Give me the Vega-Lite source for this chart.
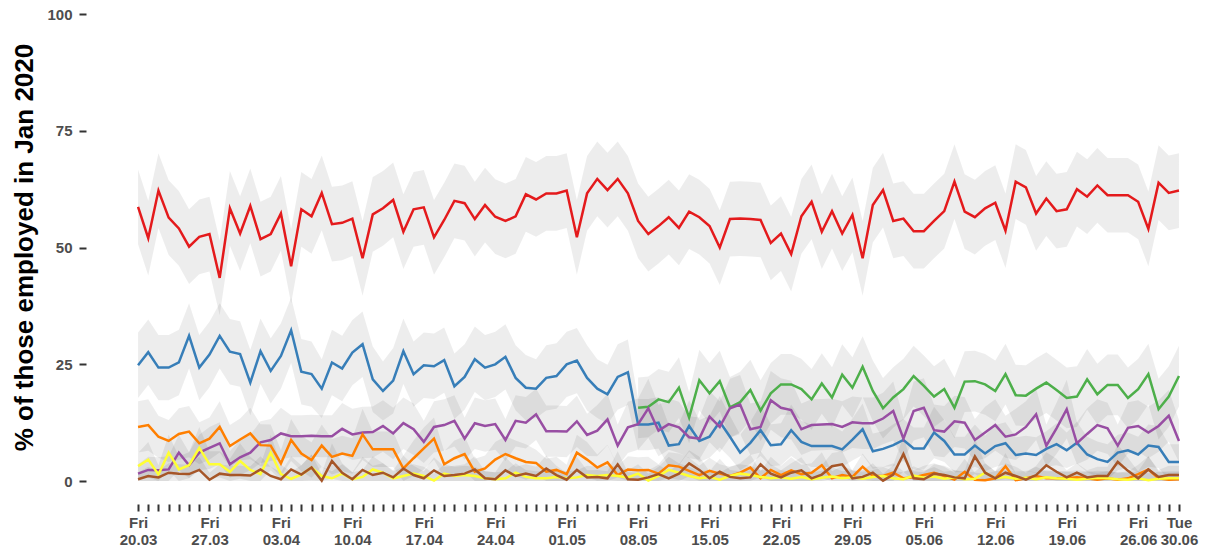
{
"$schema":"https://vega.github.io/schema/vega-lite/v6.json",
"width":1114,"height":504,
"autosize":{"type":"none"},
"padding":{"left":86,"top":0,"right":5,"bottom":48},
"background":"white",
"config":{"view":{"stroke":null},"font":"Liberation Sans",
"axis":{"domain":false,"grid":false,"tickWidth":2,"tickColor":"#333333","labelFont":"Liberation Sans","labelFontWeight":"bold","labelFontSize":15,"labelColor":"#4d4d4d","titleFont":"Liberation Sans"}},
"data":{"format":{"parse":{"d":"utc:'%Y-%m-%d'"}},"values":[
{"s":"A","d":"2020-03-20","v":58.7,"l":50.7,"h":66.7},
{"s":"A","d":"2020-03-21","v":52.0,"l":44.0,"h":60.0},
{"s":"A","d":"2020-03-22","v":62.2,"l":54.2,"h":70.2},
{"s":"A","d":"2020-03-23","v":56.4,"l":48.4,"h":64.4},
{"s":"A","d":"2020-03-24","v":54.1,"l":46.1,"h":62.1},
{"s":"A","d":"2020-03-25","v":50.2,"l":42.2,"h":58.2},
{"s":"A","d":"2020-03-26","v":52.3,"l":44.3,"h":60.3},
{"s":"A","d":"2020-03-27","v":52.9,"l":44.9,"h":60.9},
{"s":"A","d":"2020-03-28","v":43.5,"l":35.5,"h":51.5},
{"s":"A","d":"2020-03-29","v":58.4,"l":50.4,"h":66.4},
{"s":"A","d":"2020-03-30","v":53.0,"l":45.0,"h":61.0},
{"s":"A","d":"2020-03-31","v":58.9,"l":50.9,"h":66.9},
{"s":"A","d":"2020-04-01","v":51.8,"l":43.8,"h":59.8},
{"s":"A","d":"2020-04-02","v":52.9,"l":44.9,"h":60.9},
{"s":"A","d":"2020-04-03","v":57.3,"l":49.3,"h":65.3},
{"s":"A","d":"2020-04-04","v":46.0,"l":38.0,"h":54.0},
{"s":"A","d":"2020-04-05","v":58.2,"l":50.2,"h":66.2},
{"s":"A","d":"2020-04-06","v":56.7,"l":48.7,"h":64.7},
{"s":"A","d":"2020-04-07","v":61.7,"l":53.7,"h":69.7},
{"s":"A","d":"2020-04-08","v":55.0,"l":47.0,"h":63.0},
{"s":"A","d":"2020-04-09","v":55.3,"l":47.3,"h":63.3},
{"s":"A","d":"2020-04-10","v":56.2,"l":48.2,"h":64.2},
{"s":"A","d":"2020-04-11","v":47.7,"l":39.7,"h":55.7},
{"s":"A","d":"2020-04-12","v":57.1,"l":49.1,"h":65.1},
{"s":"A","d":"2020-04-13","v":58.4,"l":50.4,"h":66.4},
{"s":"A","d":"2020-04-14","v":60.2,"l":52.2,"h":68.2},
{"s":"A","d":"2020-04-15","v":53.4,"l":45.4,"h":61.4},
{"s":"A","d":"2020-04-16","v":58.2,"l":50.2,"h":66.2},
{"s":"A","d":"2020-04-17","v":58.6,"l":50.6,"h":66.6},
{"s":"A","d":"2020-04-18","v":52.2,"l":44.2,"h":60.2},
{"s":"A","d":"2020-04-19","v":55.9,"l":47.9,"h":63.9},
{"s":"A","d":"2020-04-20","v":60.0,"l":52.0,"h":68.0},
{"s":"A","d":"2020-04-21","v":59.5,"l":51.5,"h":67.5},
{"s":"A","d":"2020-04-22","v":56.1,"l":48.1,"h":64.1},
{"s":"A","d":"2020-04-23","v":59.1,"l":51.1,"h":67.1},
{"s":"A","d":"2020-04-24","v":56.6,"l":48.6,"h":64.6},
{"s":"A","d":"2020-04-25","v":55.7,"l":47.7,"h":63.7},
{"s":"A","d":"2020-04-26","v":56.7,"l":48.7,"h":64.7},
{"s":"A","d":"2020-04-27","v":61.4,"l":53.4,"h":69.4},
{"s":"A","d":"2020-04-28","v":60.3,"l":52.3,"h":68.3},
{"s":"A","d":"2020-04-29","v":61.6,"l":53.6,"h":69.6},
{"s":"A","d":"2020-04-30","v":61.6,"l":53.6,"h":69.6},
{"s":"A","d":"2020-05-01","v":62.2,"l":54.2,"h":70.2},
{"s":"A","d":"2020-05-02","v":52.2,"l":44.2,"h":60.2},
{"s":"A","d":"2020-05-03","v":61.6,"l":53.6,"h":69.6},
{"s":"A","d":"2020-05-04","v":64.7,"l":56.7,"h":72.7},
{"s":"A","d":"2020-05-05","v":62.3,"l":54.3,"h":70.3},
{"s":"A","d":"2020-05-06","v":64.7,"l":56.7,"h":72.7},
{"s":"A","d":"2020-05-07","v":61.6,"l":53.6,"h":69.6},
{"s":"A","d":"2020-05-08","v":55.7,"l":47.7,"h":63.7},
{"s":"A","d":"2020-05-09","v":52.9,"l":44.9,"h":60.9},
{"s":"A","d":"2020-05-10","v":54.6,"l":46.6,"h":62.6},
{"s":"A","d":"2020-05-11","v":56.5,"l":48.5,"h":64.5},
{"s":"A","d":"2020-05-12","v":54.2,"l":46.2,"h":62.2},
{"s":"A","d":"2020-05-13","v":57.7,"l":49.7,"h":65.7},
{"s":"A","d":"2020-05-14","v":56.5,"l":48.5,"h":64.5},
{"s":"A","d":"2020-05-15","v":54.6,"l":46.6,"h":62.6},
{"s":"A","d":"2020-05-16","v":50.0,"l":42.0,"h":58.0},
{"s":"A","d":"2020-05-17","v":56.1,"l":48.1,"h":64.1},
{"s":"A","d":"2020-05-18","v":56.2,"l":48.2,"h":64.2},
{"s":"A","d":"2020-05-19","v":56.1,"l":48.1,"h":64.1},
{"s":"A","d":"2020-05-20","v":55.9,"l":47.9,"h":63.9},
{"s":"A","d":"2020-05-21","v":51.0,"l":43.0,"h":59.0},
{"s":"A","d":"2020-05-22","v":53.0,"l":45.0,"h":61.0},
{"s":"A","d":"2020-05-23","v":48.6,"l":40.6,"h":56.6},
{"s":"A","d":"2020-05-24","v":56.7,"l":48.7,"h":64.7},
{"s":"A","d":"2020-05-25","v":59.8,"l":51.8,"h":67.8},
{"s":"A","d":"2020-05-26","v":53.4,"l":45.4,"h":61.4},
{"s":"A","d":"2020-05-27","v":57.8,"l":49.8,"h":65.8},
{"s":"A","d":"2020-05-28","v":53.0,"l":45.0,"h":61.0},
{"s":"A","d":"2020-05-29","v":57.0,"l":49.0,"h":65.0},
{"s":"A","d":"2020-05-30","v":47.7,"l":39.7,"h":55.7},
{"s":"A","d":"2020-05-31","v":59.1,"l":51.1,"h":67.1},
{"s":"A","d":"2020-06-01","v":62.3,"l":54.3,"h":70.3},
{"s":"A","d":"2020-06-02","v":55.7,"l":47.7,"h":63.7},
{"s":"A","d":"2020-06-03","v":56.2,"l":48.2,"h":64.2},
{"s":"A","d":"2020-06-04","v":53.5,"l":45.5,"h":61.5},
{"s":"A","d":"2020-06-05","v":53.5,"l":45.5,"h":61.5},
{"s":"A","d":"2020-06-06","v":55.7,"l":47.7,"h":63.7},
{"s":"A","d":"2020-06-07","v":57.8,"l":49.8,"h":65.8},
{"s":"A","d":"2020-06-08","v":64.1,"l":56.1,"h":72.1},
{"s":"A","d":"2020-06-09","v":57.7,"l":49.7,"h":65.7},
{"s":"A","d":"2020-06-10","v":56.5,"l":48.5,"h":64.5},
{"s":"A","d":"2020-06-11","v":58.4,"l":50.4,"h":66.4},
{"s":"A","d":"2020-06-12","v":59.6,"l":51.6,"h":67.6},
{"s":"A","d":"2020-06-13","v":53.6,"l":45.6,"h":61.6},
{"s":"A","d":"2020-06-14","v":64.1,"l":56.1,"h":72.1},
{"s":"A","d":"2020-06-15","v":62.9,"l":54.9,"h":70.9},
{"s":"A","d":"2020-06-16","v":57.3,"l":49.3,"h":65.3},
{"s":"A","d":"2020-06-17","v":60.5,"l":52.5,"h":68.5},
{"s":"A","d":"2020-06-18","v":57.8,"l":49.8,"h":65.8},
{"s":"A","d":"2020-06-19","v":58.2,"l":50.2,"h":66.2},
{"s":"A","d":"2020-06-20","v":62.5,"l":54.5,"h":70.5},
{"s":"A","d":"2020-06-21","v":60.9,"l":52.9,"h":68.9},
{"s":"A","d":"2020-06-22","v":63.3,"l":55.3,"h":71.3},
{"s":"A","d":"2020-06-23","v":61.2,"l":53.2,"h":69.2},
{"s":"A","d":"2020-06-24","v":61.2,"l":53.2,"h":69.2},
{"s":"A","d":"2020-06-25","v":61.2,"l":53.2,"h":69.2},
{"s":"A","d":"2020-06-26","v":59.8,"l":51.8,"h":67.8},
{"s":"A","d":"2020-06-27","v":54.0,"l":46.0,"h":62.0},
{"s":"A","d":"2020-06-28","v":63.9,"l":55.9,"h":71.9},
{"s":"A","d":"2020-06-29","v":61.7,"l":53.7,"h":69.7},
{"s":"A","d":"2020-06-30","v":62.2,"l":54.2,"h":70.2},
{"s":"B","d":"2020-03-20","v":24.8,"l":17.8,"h":31.8},
{"s":"B","d":"2020-03-21","v":27.6,"l":20.6,"h":34.6},
{"s":"B","d":"2020-03-22","v":24.3,"l":17.3,"h":31.3},
{"s":"B","d":"2020-03-23","v":24.3,"l":17.3,"h":31.3},
{"s":"B","d":"2020-03-24","v":25.4,"l":18.4,"h":32.4},
{"s":"B","d":"2020-03-25","v":31.1,"l":24.1,"h":38.1},
{"s":"B","d":"2020-03-26","v":24.3,"l":17.3,"h":31.3},
{"s":"B","d":"2020-03-27","v":27.1,"l":20.1,"h":34.1},
{"s":"B","d":"2020-03-28","v":31.1,"l":24.1,"h":38.1},
{"s":"B","d":"2020-03-29","v":27.7,"l":20.7,"h":34.7},
{"s":"B","d":"2020-03-30","v":27.2,"l":20.2,"h":34.2},
{"s":"B","d":"2020-03-31","v":21.1,"l":14.1,"h":28.1},
{"s":"B","d":"2020-04-01","v":27.8,"l":20.8,"h":34.8},
{"s":"B","d":"2020-04-02","v":23.6,"l":16.6,"h":30.6},
{"s":"B","d":"2020-04-03","v":26.8,"l":19.8,"h":33.8},
{"s":"B","d":"2020-04-04","v":32.3,"l":25.3,"h":39.3},
{"s":"B","d":"2020-04-05","v":23.4,"l":16.4,"h":30.4},
{"s":"B","d":"2020-04-06","v":22.9,"l":15.9,"h":29.9},
{"s":"B","d":"2020-04-07","v":19.8,"l":13.5,"h":26.1},
{"s":"B","d":"2020-04-08","v":25.4,"l":18.4,"h":32.4},
{"s":"B","d":"2020-04-09","v":24.1,"l":17.1,"h":31.1},
{"s":"B","d":"2020-04-10","v":27.5,"l":20.5,"h":34.5},
{"s":"B","d":"2020-04-11","v":29.3,"l":22.3,"h":36.3},
{"s":"B","d":"2020-04-12","v":21.8,"l":14.8,"h":28.8},
{"s":"B","d":"2020-04-13","v":19.3,"l":13.0,"h":25.6},
{"s":"B","d":"2020-04-14","v":21.5,"l":14.5,"h":28.5},
{"s":"B","d":"2020-04-15","v":27.8,"l":20.8,"h":34.8},
{"s":"B","d":"2020-04-16","v":22.9,"l":15.9,"h":29.9},
{"s":"B","d":"2020-04-17","v":24.8,"l":17.8,"h":31.8},
{"s":"B","d":"2020-04-18","v":24.6,"l":17.6,"h":31.6},
{"s":"B","d":"2020-04-19","v":25.9,"l":18.9,"h":32.9},
{"s":"B","d":"2020-04-20","v":20.3,"l":13.3,"h":27.3},
{"s":"B","d":"2020-04-21","v":22.3,"l":15.3,"h":29.3},
{"s":"B","d":"2020-04-22","v":26.1,"l":19.1,"h":33.1},
{"s":"B","d":"2020-04-23","v":24.3,"l":17.3,"h":31.3},
{"s":"B","d":"2020-04-24","v":25.0,"l":18.0,"h":32.0},
{"s":"B","d":"2020-04-25","v":26.6,"l":19.6,"h":33.6},
{"s":"B","d":"2020-04-26","v":22.1,"l":15.1,"h":29.1},
{"s":"B","d":"2020-04-27","v":20.0,"l":13.0,"h":27.0},
{"s":"B","d":"2020-04-28","v":19.8,"l":13.5,"h":26.1},
{"s":"B","d":"2020-04-29","v":22.1,"l":15.1,"h":29.1},
{"s":"B","d":"2020-04-30","v":22.5,"l":15.5,"h":29.5},
{"s":"B","d":"2020-05-01","v":25.0,"l":18.0,"h":32.0},
{"s":"B","d":"2020-05-02","v":25.8,"l":18.8,"h":32.8},
{"s":"B","d":"2020-05-03","v":22.1,"l":15.1,"h":29.1},
{"s":"B","d":"2020-05-04","v":19.8,"l":13.5,"h":26.1},
{"s":"B","d":"2020-05-05","v":18.6,"l":12.3,"h":24.9},
{"s":"B","d":"2020-05-06","v":22.3,"l":15.3,"h":29.3},
{"s":"B","d":"2020-05-07","v":23.3,"l":16.3,"h":30.3},
{"s":"B","d":"2020-05-08","v":12.1,"l":6.6,"h":17.6},
{"s":"B","d":"2020-05-09","v":12.1,"l":6.6,"h":17.6},
{"s":"B","d":"2020-05-10","v":12.5,"l":7.0,"h":18.0},
{"s":"B","d":"2020-05-11","v":7.6,"l":3.1,"h":12.1},
{"s":"B","d":"2020-05-12","v":7.9,"l":3.4,"h":12.4},
{"s":"B","d":"2020-05-13","v":11.8,"l":6.3,"h":17.3},
{"s":"B","d":"2020-05-14","v":8.6,"l":4.1,"h":13.1},
{"s":"B","d":"2020-05-15","v":9.5,"l":5.0,"h":14.0},
{"s":"B","d":"2020-05-16","v":12.7,"l":7.2,"h":18.2},
{"s":"B","d":"2020-05-17","v":9.5,"l":5.0,"h":14.0},
{"s":"B","d":"2020-05-18","v":6.1,"l":2.3,"h":9.9},
{"s":"B","d":"2020-05-19","v":8.2,"l":3.7,"h":12.7},
{"s":"B","d":"2020-05-20","v":10.9,"l":5.4,"h":16.4},
{"s":"B","d":"2020-05-21","v":7.7,"l":3.2,"h":12.2},
{"s":"B","d":"2020-05-22","v":7.9,"l":3.4,"h":12.4},
{"s":"B","d":"2020-05-23","v":10.9,"l":5.4,"h":16.4},
{"s":"B","d":"2020-05-24","v":8.4,"l":3.9,"h":12.9},
{"s":"B","d":"2020-05-25","v":7.5,"l":3.0,"h":12.0},
{"s":"B","d":"2020-05-26","v":7.5,"l":3.0,"h":12.0},
{"s":"B","d":"2020-05-27","v":7.5,"l":3.0,"h":12.0},
{"s":"B","d":"2020-05-28","v":6.8,"l":3.0,"h":10.6},
{"s":"B","d":"2020-05-29","v":8.9,"l":4.4,"h":13.4},
{"s":"B","d":"2020-05-30","v":11.1,"l":5.6,"h":16.6},
{"s":"B","d":"2020-05-31","v":6.4,"l":2.6,"h":10.2},
{"s":"B","d":"2020-06-01","v":6.9,"l":3.1,"h":10.7},
{"s":"B","d":"2020-06-02","v":7.7,"l":3.2,"h":12.2},
{"s":"B","d":"2020-06-03","v":8.8,"l":4.3,"h":13.3},
{"s":"B","d":"2020-06-04","v":7.0,"l":2.5,"h":11.5},
{"s":"B","d":"2020-06-05","v":7.0,"l":2.5,"h":11.5},
{"s":"B","d":"2020-06-06","v":10.4,"l":4.9,"h":15.9},
{"s":"B","d":"2020-06-07","v":8.6,"l":4.1,"h":13.1},
{"s":"B","d":"2020-06-08","v":5.7,"l":1.9,"h":9.5},
{"s":"B","d":"2020-06-09","v":5.7,"l":1.9,"h":9.5},
{"s":"B","d":"2020-06-10","v":7.6,"l":3.1,"h":12.1},
{"s":"B","d":"2020-06-11","v":5.9,"l":2.1,"h":9.7},
{"s":"B","d":"2020-06-12","v":7.5,"l":3.0,"h":12.0},
{"s":"B","d":"2020-06-13","v":8.1,"l":3.6,"h":12.6},
{"s":"B","d":"2020-06-14","v":5.6,"l":1.8,"h":9.4},
{"s":"B","d":"2020-06-15","v":5.9,"l":2.1,"h":9.7},
{"s":"B","d":"2020-06-16","v":5.6,"l":1.8,"h":9.4},
{"s":"B","d":"2020-06-17","v":6.9,"l":3.1,"h":10.7},
{"s":"B","d":"2020-06-18","v":7.9,"l":3.4,"h":12.4},
{"s":"B","d":"2020-06-19","v":6.6,"l":2.8,"h":10.4},
{"s":"B","d":"2020-06-20","v":8.2,"l":3.7,"h":12.7},
{"s":"B","d":"2020-06-21","v":5.7,"l":1.9,"h":9.5},
{"s":"B","d":"2020-06-22","v":4.7,"l":0.9,"h":8.5},
{"s":"B","d":"2020-06-23","v":4.1,"l":0.3,"h":7.9},
{"s":"B","d":"2020-06-24","v":6.1,"l":2.3,"h":9.9},
{"s":"B","d":"2020-06-25","v":6.6,"l":2.8,"h":10.4},
{"s":"B","d":"2020-06-26","v":5.7,"l":1.9,"h":9.5},
{"s":"B","d":"2020-06-27","v":7.6,"l":3.1,"h":12.1},
{"s":"B","d":"2020-06-28","v":7.3,"l":2.8,"h":11.8},
{"s":"B","d":"2020-06-29","v":4.1,"l":0.3,"h":7.9},
{"s":"B","d":"2020-06-30","v":4.1,"l":0.3,"h":7.9},
{"s":"C","d":"2020-05-08","v":15.7,"l":9.2,"h":22.2},
{"s":"C","d":"2020-05-09","v":15.9,"l":9.4,"h":22.4},
{"s":"C","d":"2020-05-10","v":17.5,"l":11.0,"h":24.0},
{"s":"C","d":"2020-05-11","v":16.9,"l":10.4,"h":23.4},
{"s":"C","d":"2020-05-12","v":20.0,"l":13.5,"h":26.5},
{"s":"C","d":"2020-05-13","v":13.6,"l":8.1,"h":19.1},
{"s":"C","d":"2020-05-14","v":21.6,"l":15.1,"h":28.1},
{"s":"C","d":"2020-05-15","v":18.8,"l":12.3,"h":25.3},
{"s":"C","d":"2020-05-16","v":21.4,"l":14.9,"h":27.9},
{"s":"C","d":"2020-05-17","v":15.8,"l":9.3,"h":22.3},
{"s":"C","d":"2020-05-18","v":16.9,"l":10.4,"h":23.4},
{"s":"C","d":"2020-05-19","v":19.5,"l":13.0,"h":26.0},
{"s":"C","d":"2020-05-20","v":15.1,"l":8.6,"h":21.6},
{"s":"C","d":"2020-05-21","v":18.8,"l":12.3,"h":25.3},
{"s":"C","d":"2020-05-22","v":20.7,"l":14.2,"h":27.2},
{"s":"C","d":"2020-05-23","v":20.7,"l":14.2,"h":27.2},
{"s":"C","d":"2020-05-24","v":19.7,"l":13.2,"h":26.2},
{"s":"C","d":"2020-05-25","v":17.5,"l":11.0,"h":24.0},
{"s":"C","d":"2020-05-26","v":20.9,"l":14.4,"h":27.4},
{"s":"C","d":"2020-05-27","v":17.9,"l":11.4,"h":24.4},
{"s":"C","d":"2020-05-28","v":22.8,"l":16.3,"h":29.3},
{"s":"C","d":"2020-05-29","v":20.0,"l":13.5,"h":26.5},
{"s":"C","d":"2020-05-30","v":24.5,"l":18.0,"h":31.0},
{"s":"C","d":"2020-05-31","v":19.3,"l":12.8,"h":25.8},
{"s":"C","d":"2020-06-01","v":15.6,"l":9.1,"h":22.1},
{"s":"C","d":"2020-06-02","v":17.9,"l":11.4,"h":24.4},
{"s":"C","d":"2020-06-03","v":19.7,"l":13.2,"h":26.2},
{"s":"C","d":"2020-06-04","v":22.5,"l":16.0,"h":29.0},
{"s":"C","d":"2020-06-05","v":20.4,"l":13.9,"h":26.9},
{"s":"C","d":"2020-06-06","v":18.1,"l":11.6,"h":24.6},
{"s":"C","d":"2020-06-07","v":19.7,"l":13.2,"h":26.2},
{"s":"C","d":"2020-06-08","v":15.7,"l":9.2,"h":22.2},
{"s":"C","d":"2020-06-09","v":21.3,"l":14.8,"h":27.8},
{"s":"C","d":"2020-06-10","v":21.4,"l":14.9,"h":27.9},
{"s":"C","d":"2020-06-11","v":20.7,"l":14.2,"h":27.2},
{"s":"C","d":"2020-06-12","v":19.3,"l":12.8,"h":25.8},
{"s":"C","d":"2020-06-13","v":22.9,"l":16.4,"h":29.4},
{"s":"C","d":"2020-06-14","v":18.4,"l":11.9,"h":24.9},
{"s":"C","d":"2020-06-15","v":18.3,"l":11.8,"h":24.8},
{"s":"C","d":"2020-06-16","v":19.8,"l":13.3,"h":26.3},
{"s":"C","d":"2020-06-17","v":21.1,"l":14.6,"h":27.6},
{"s":"C","d":"2020-06-18","v":19.5,"l":13.0,"h":26.0},
{"s":"C","d":"2020-06-19","v":17.8,"l":11.3,"h":24.3},
{"s":"C","d":"2020-06-20","v":18.1,"l":11.6,"h":24.6},
{"s":"C","d":"2020-06-21","v":21.8,"l":15.3,"h":28.3},
{"s":"C","d":"2020-06-22","v":18.6,"l":12.1,"h":25.1},
{"s":"C","d":"2020-06-23","v":20.6,"l":14.1,"h":27.1},
{"s":"C","d":"2020-06-24","v":20.6,"l":14.1,"h":27.1},
{"s":"C","d":"2020-06-25","v":17.8,"l":11.3,"h":24.3},
{"s":"C","d":"2020-06-26","v":19.7,"l":13.2,"h":26.2},
{"s":"C","d":"2020-06-27","v":22.9,"l":16.4,"h":29.4},
{"s":"C","d":"2020-06-28","v":15.4,"l":8.9,"h":21.9},
{"s":"C","d":"2020-06-29","v":18.1,"l":11.6,"h":24.6},
{"s":"C","d":"2020-06-30","v":22.5,"l":16.0,"h":29.0},
{"s":"D","d":"2020-03-20","v":1.6,"l":0.0,"h":3.6},
{"s":"D","d":"2020-03-21","v":2.4,"l":0.0,"h":5.2},
{"s":"D","d":"2020-03-22","v":2.3,"l":0.0,"h":5.1},
{"s":"D","d":"2020-03-23","v":2.5,"l":0.0,"h":5.3},
{"s":"D","d":"2020-03-24","v":6.1,"l":2.3,"h":9.9},
{"s":"D","d":"2020-03-25","v":3.4,"l":0.6,"h":6.2},
{"s":"D","d":"2020-03-26","v":6.1,"l":2.3,"h":9.9},
{"s":"D","d":"2020-03-27","v":7.1,"l":2.6,"h":11.6},
{"s":"D","d":"2020-03-28","v":8.1,"l":3.6,"h":12.6},
{"s":"D","d":"2020-03-29","v":3.6,"l":0.8,"h":6.4},
{"s":"D","d":"2020-03-30","v":5.1,"l":1.3,"h":8.9},
{"s":"D","d":"2020-03-31","v":6.1,"l":2.3,"h":9.9},
{"s":"D","d":"2020-04-01","v":8.3,"l":3.8,"h":12.8},
{"s":"D","d":"2020-04-02","v":8.8,"l":4.3,"h":13.3},
{"s":"D","d":"2020-04-03","v":10.2,"l":4.7,"h":15.7},
{"s":"D","d":"2020-04-04","v":9.6,"l":5.1,"h":14.1},
{"s":"D","d":"2020-04-05","v":9.6,"l":5.1,"h":14.1},
{"s":"D","d":"2020-04-06","v":9.7,"l":5.2,"h":14.2},
{"s":"D","d":"2020-04-07","v":9.6,"l":5.1,"h":14.1},
{"s":"D","d":"2020-04-08","v":9.6,"l":5.1,"h":14.1},
{"s":"D","d":"2020-04-09","v":11.2,"l":5.7,"h":16.7},
{"s":"D","d":"2020-04-10","v":10.0,"l":4.5,"h":15.5},
{"s":"D","d":"2020-04-11","v":10.4,"l":4.9,"h":15.9},
{"s":"D","d":"2020-04-12","v":10.5,"l":5.0,"h":16.0},
{"s":"D","d":"2020-04-13","v":11.8,"l":6.3,"h":17.3},
{"s":"D","d":"2020-04-14","v":10.2,"l":4.7,"h":15.7},
{"s":"D","d":"2020-04-15","v":12.4,"l":6.9,"h":17.9},
{"s":"D","d":"2020-04-16","v":11.1,"l":5.6,"h":16.6},
{"s":"D","d":"2020-04-17","v":8.4,"l":3.9,"h":12.9},
{"s":"D","d":"2020-04-18","v":11.6,"l":6.1,"h":17.1},
{"s":"D","d":"2020-04-19","v":12.0,"l":6.5,"h":17.5},
{"s":"D","d":"2020-04-20","v":12.9,"l":7.4,"h":18.4},
{"s":"D","d":"2020-04-21","v":9.1,"l":4.6,"h":13.6},
{"s":"D","d":"2020-04-22","v":12.4,"l":6.9,"h":17.9},
{"s":"D","d":"2020-04-23","v":11.8,"l":6.3,"h":17.3},
{"s":"D","d":"2020-04-24","v":12.2,"l":6.7,"h":17.7},
{"s":"D","d":"2020-04-25","v":8.8,"l":4.3,"h":13.3},
{"s":"D","d":"2020-04-26","v":12.9,"l":7.4,"h":18.4},
{"s":"D","d":"2020-04-27","v":12.5,"l":7.0,"h":18.0},
{"s":"D","d":"2020-04-28","v":14.3,"l":8.8,"h":19.8},
{"s":"D","d":"2020-04-29","v":10.7,"l":5.2,"h":16.2},
{"s":"D","d":"2020-04-30","v":10.7,"l":5.2,"h":16.2},
{"s":"D","d":"2020-05-01","v":10.6,"l":5.1,"h":16.1},
{"s":"D","d":"2020-05-02","v":12.8,"l":7.3,"h":18.3},
{"s":"D","d":"2020-05-03","v":9.9,"l":5.4,"h":14.4},
{"s":"D","d":"2020-05-04","v":10.8,"l":5.3,"h":16.3},
{"s":"D","d":"2020-05-05","v":13.2,"l":7.7,"h":18.7},
{"s":"D","d":"2020-05-06","v":7.6,"l":3.1,"h":12.1},
{"s":"D","d":"2020-05-07","v":11.5,"l":6.0,"h":17.0},
{"s":"D","d":"2020-05-08","v":12.2,"l":6.7,"h":17.7},
{"s":"D","d":"2020-05-09","v":15.6,"l":9.3,"h":21.9},
{"s":"D","d":"2020-05-10","v":10.8,"l":5.3,"h":16.3},
{"s":"D","d":"2020-05-11","v":12.2,"l":6.7,"h":17.7},
{"s":"D","d":"2020-05-12","v":11.5,"l":6.0,"h":17.0},
{"s":"D","d":"2020-05-13","v":9.4,"l":4.9,"h":13.9},
{"s":"D","d":"2020-05-14","v":9.1,"l":4.6,"h":13.6},
{"s":"D","d":"2020-05-15","v":13.8,"l":8.3,"h":19.3},
{"s":"D","d":"2020-05-16","v":11.6,"l":6.1,"h":17.1},
{"s":"D","d":"2020-05-17","v":15.6,"l":9.3,"h":21.9},
{"s":"D","d":"2020-05-18","v":16.4,"l":10.1,"h":22.7},
{"s":"D","d":"2020-05-19","v":11.1,"l":5.6,"h":16.6},
{"s":"D","d":"2020-05-20","v":11.6,"l":6.1,"h":17.1},
{"s":"D","d":"2020-05-21","v":17.3,"l":11.0,"h":23.6},
{"s":"D","d":"2020-05-22","v":15.7,"l":9.4,"h":22.0},
{"s":"D","d":"2020-05-23","v":15.2,"l":8.9,"h":21.5},
{"s":"D","d":"2020-05-24","v":11.1,"l":5.6,"h":16.6},
{"s":"D","d":"2020-05-25","v":12.0,"l":6.5,"h":17.5},
{"s":"D","d":"2020-05-26","v":12.1,"l":6.6,"h":17.6},
{"s":"D","d":"2020-05-27","v":12.2,"l":6.7,"h":17.7},
{"s":"D","d":"2020-05-28","v":11.6,"l":6.1,"h":17.1},
{"s":"D","d":"2020-05-29","v":12.6,"l":7.1,"h":18.1},
{"s":"D","d":"2020-05-30","v":12.4,"l":6.9,"h":17.9},
{"s":"D","d":"2020-05-31","v":12.4,"l":6.9,"h":17.9},
{"s":"D","d":"2020-06-01","v":13.4,"l":7.9,"h":18.9},
{"s":"D","d":"2020-06-02","v":15.0,"l":8.7,"h":21.3},
{"s":"D","d":"2020-06-03","v":9.1,"l":4.6,"h":13.6},
{"s":"D","d":"2020-06-04","v":15.0,"l":8.7,"h":21.3},
{"s":"D","d":"2020-06-05","v":15.7,"l":9.4,"h":22.0},
{"s":"D","d":"2020-06-06","v":10.9,"l":5.4,"h":16.4},
{"s":"D","d":"2020-06-07","v":10.6,"l":5.1,"h":16.1},
{"s":"D","d":"2020-06-08","v":12.8,"l":7.3,"h":18.3},
{"s":"D","d":"2020-06-09","v":12.5,"l":7.0,"h":18.0},
{"s":"D","d":"2020-06-10","v":8.8,"l":4.3,"h":13.3},
{"s":"D","d":"2020-06-11","v":10.4,"l":4.9,"h":15.9},
{"s":"D","d":"2020-06-12","v":12.0,"l":6.5,"h":17.5},
{"s":"D","d":"2020-06-13","v":9.5,"l":5.0,"h":14.0},
{"s":"D","d":"2020-06-14","v":10.0,"l":4.5,"h":15.5},
{"s":"D","d":"2020-06-15","v":11.6,"l":6.1,"h":17.1},
{"s":"D","d":"2020-06-16","v":14.3,"l":8.8,"h":19.8},
{"s":"D","d":"2020-06-17","v":7.6,"l":3.1,"h":12.1},
{"s":"D","d":"2020-06-18","v":11.3,"l":5.8,"h":16.8},
{"s":"D","d":"2020-06-19","v":15.4,"l":9.1,"h":21.7},
{"s":"D","d":"2020-06-20","v":8.1,"l":3.6,"h":12.6},
{"s":"D","d":"2020-06-21","v":10.1,"l":4.6,"h":15.6},
{"s":"D","d":"2020-06-22","v":12.0,"l":6.5,"h":17.5},
{"s":"D","d":"2020-06-23","v":11.3,"l":5.8,"h":16.8},
{"s":"D","d":"2020-06-24","v":7.6,"l":3.1,"h":12.1},
{"s":"D","d":"2020-06-25","v":11.4,"l":5.9,"h":16.9},
{"s":"D","d":"2020-06-26","v":11.8,"l":6.3,"h":17.3},
{"s":"D","d":"2020-06-27","v":10.4,"l":4.9,"h":15.9},
{"s":"D","d":"2020-06-28","v":11.8,"l":6.3,"h":17.3},
{"s":"D","d":"2020-06-29","v":14.0,"l":8.5,"h":19.5},
{"s":"D","d":"2020-06-30","v":8.6,"l":4.1,"h":13.1},
{"s":"E","d":"2020-03-20","v":11.6,"l":6.1,"h":17.1},
{"s":"E","d":"2020-03-21","v":12.0,"l":6.5,"h":17.5},
{"s":"E","d":"2020-03-22","v":9.5,"l":5.0,"h":14.0},
{"s":"E","d":"2020-03-23","v":8.6,"l":4.1,"h":13.1},
{"s":"E","d":"2020-03-24","v":10.1,"l":4.6,"h":15.6},
{"s":"E","d":"2020-03-25","v":10.6,"l":5.1,"h":16.1},
{"s":"E","d":"2020-03-26","v":8.1,"l":3.6,"h":12.6},
{"s":"E","d":"2020-03-27","v":9.1,"l":4.6,"h":13.6},
{"s":"E","d":"2020-03-28","v":11.6,"l":6.1,"h":17.1},
{"s":"E","d":"2020-03-29","v":7.5,"l":3.0,"h":12.0},
{"s":"E","d":"2020-03-30","v":8.9,"l":4.4,"h":13.4},
{"s":"E","d":"2020-03-31","v":10.2,"l":4.7,"h":15.7},
{"s":"E","d":"2020-04-01","v":7.7,"l":3.2,"h":12.2},
{"s":"E","d":"2020-04-02","v":7.6,"l":3.1,"h":12.1},
{"s":"E","d":"2020-04-03","v":3.8,"l":1.0,"h":6.6},
{"s":"E","d":"2020-04-04","v":8.8,"l":4.3,"h":13.3},
{"s":"E","d":"2020-04-05","v":5.9,"l":2.1,"h":9.7},
{"s":"E","d":"2020-04-06","v":4.5,"l":0.7,"h":8.3},
{"s":"E","d":"2020-04-07","v":7.6,"l":3.1,"h":12.1},
{"s":"E","d":"2020-04-08","v":5.2,"l":1.4,"h":9.0},
{"s":"E","d":"2020-04-09","v":5.9,"l":2.1,"h":9.7},
{"s":"E","d":"2020-04-10","v":5.4,"l":1.6,"h":9.2},
{"s":"E","d":"2020-04-11","v":10.0,"l":4.5,"h":15.5},
{"s":"E","d":"2020-04-12","v":6.8,"l":3.0,"h":10.6},
{"s":"E","d":"2020-04-13","v":6.8,"l":3.0,"h":10.6},
{"s":"E","d":"2020-04-14","v":6.8,"l":3.0,"h":10.6},
{"s":"E","d":"2020-04-15","v":2.7,"l":0.0,"h":5.5},
{"s":"E","d":"2020-04-16","v":4.9,"l":1.1,"h":8.7},
{"s":"E","d":"2020-04-17","v":7.0,"l":2.5,"h":11.5},
{"s":"E","d":"2020-04-18","v":9.1,"l":4.6,"h":13.6},
{"s":"E","d":"2020-04-19","v":3.6,"l":0.8,"h":6.4},
{"s":"E","d":"2020-04-20","v":4.9,"l":1.1,"h":8.7},
{"s":"E","d":"2020-04-21","v":5.8,"l":2.0,"h":9.6},
{"s":"E","d":"2020-04-22","v":2.0,"l":0.0,"h":4.8},
{"s":"E","d":"2020-04-23","v":2.7,"l":0.0,"h":5.5},
{"s":"E","d":"2020-04-24","v":4.6,"l":0.8,"h":8.4},
{"s":"E","d":"2020-04-25","v":5.8,"l":2.0,"h":9.6},
{"s":"E","d":"2020-04-26","v":4.9,"l":1.1,"h":8.7},
{"s":"E","d":"2020-04-27","v":4.1,"l":0.3,"h":7.9},
{"s":"E","d":"2020-04-28","v":3.9,"l":1.1,"h":6.7},
{"s":"E","d":"2020-04-29","v":2.0,"l":0.0,"h":4.8},
{"s":"E","d":"2020-04-30","v":2.4,"l":0.0,"h":5.2},
{"s":"E","d":"2020-05-01","v":1.5,"l":0.0,"h":3.5},
{"s":"E","d":"2020-05-02","v":6.1,"l":2.3,"h":9.9},
{"s":"E","d":"2020-05-03","v":4.6,"l":0.8,"h":8.4},
{"s":"E","d":"2020-05-04","v":2.9,"l":0.1,"h":5.7},
{"s":"E","d":"2020-05-05","v":4.0,"l":0.2,"h":7.8},
{"s":"E","d":"2020-05-06","v":1.3,"l":0.0,"h":3.3},
{"s":"E","d":"2020-05-07","v":2.5,"l":0.0,"h":5.3},
{"s":"E","d":"2020-05-08","v":2.3,"l":0.0,"h":5.1},
{"s":"E","d":"2020-05-09","v":2.4,"l":0.0,"h":5.2},
{"s":"E","d":"2020-05-10","v":1.6,"l":0.0,"h":3.6},
{"s":"E","d":"2020-05-11","v":3.4,"l":0.6,"h":6.2},
{"s":"E","d":"2020-05-12","v":3.1,"l":0.3,"h":5.9},
{"s":"E","d":"2020-05-13","v":2.2,"l":0.0,"h":5.0},
{"s":"E","d":"2020-05-14","v":1.3,"l":0.0,"h":3.3},
{"s":"E","d":"2020-05-15","v":2.2,"l":0.0,"h":5.0},
{"s":"E","d":"2020-05-16","v":1.6,"l":0.0,"h":3.6},
{"s":"E","d":"2020-05-17","v":1.1,"l":0.0,"h":3.1},
{"s":"E","d":"2020-05-18","v":1.8,"l":0.0,"h":3.8},
{"s":"E","d":"2020-05-19","v":2.9,"l":0.1,"h":5.7},
{"s":"E","d":"2020-05-20","v":0.6,"l":0.0,"h":2.1},
{"s":"E","d":"2020-05-21","v":2.4,"l":0.0,"h":5.2},
{"s":"E","d":"2020-05-22","v":1.3,"l":0.0,"h":3.3},
{"s":"E","d":"2020-05-23","v":2.3,"l":0.0,"h":5.1},
{"s":"E","d":"2020-05-24","v":1.5,"l":0.0,"h":3.5},
{"s":"E","d":"2020-05-25","v":1.8,"l":0.0,"h":3.8},
{"s":"E","d":"2020-05-26","v":3.4,"l":0.6,"h":6.2},
{"s":"E","d":"2020-05-27","v":0.6,"l":0.0,"h":2.1},
{"s":"E","d":"2020-05-28","v":1.3,"l":0.0,"h":3.3},
{"s":"E","d":"2020-05-29","v":0.9,"l":0.0,"h":2.4},
{"s":"E","d":"2020-05-30","v":3.1,"l":0.3,"h":5.9},
{"s":"E","d":"2020-05-31","v":1.1,"l":0.0,"h":3.1},
{"s":"E","d":"2020-06-01","v":1.1,"l":0.0,"h":3.1},
{"s":"E","d":"2020-06-02","v":1.8,"l":0.0,"h":3.8},
{"s":"E","d":"2020-06-03","v":0.6,"l":0.0,"h":2.1},
{"s":"E","d":"2020-06-04","v":0.8,"l":0.0,"h":2.3},
{"s":"E","d":"2020-06-05","v":1.3,"l":0.0,"h":3.3},
{"s":"E","d":"2020-06-06","v":1.8,"l":0.0,"h":3.8},
{"s":"E","d":"2020-06-07","v":1.1,"l":0.0,"h":3.1},
{"s":"E","d":"2020-06-08","v":0.3,"l":0.0,"h":1.8},
{"s":"E","d":"2020-06-09","v":2.0,"l":0.0,"h":4.8},
{"s":"E","d":"2020-06-10","v":0.3,"l":0.0,"h":1.8},
{"s":"E","d":"2020-06-11","v":0.2,"l":0.0,"h":1.7},
{"s":"E","d":"2020-06-12","v":0.6,"l":0.0,"h":2.1},
{"s":"E","d":"2020-06-13","v":3.2,"l":0.4,"h":6.0},
{"s":"E","d":"2020-06-14","v":0.2,"l":0.0,"h":1.7},
{"s":"E","d":"2020-06-15","v":0.6,"l":0.0,"h":2.1},
{"s":"E","d":"2020-06-16","v":1.1,"l":0.0,"h":3.1},
{"s":"E","d":"2020-06-17","v":0.6,"l":0.0,"h":2.1},
{"s":"E","d":"2020-06-18","v":0.6,"l":0.0,"h":2.1},
{"s":"E","d":"2020-06-19","v":0.6,"l":0.0,"h":2.1},
{"s":"E","d":"2020-06-20","v":0.8,"l":0.0,"h":2.3},
{"s":"E","d":"2020-06-21","v":0.6,"l":0.0,"h":2.1},
{"s":"E","d":"2020-06-22","v":0.3,"l":0.0,"h":1.8},
{"s":"E","d":"2020-06-23","v":0.6,"l":0.0,"h":2.1},
{"s":"E","d":"2020-06-24","v":0.3,"l":0.0,"h":1.8},
{"s":"E","d":"2020-06-25","v":0.6,"l":0.0,"h":2.1},
{"s":"E","d":"2020-06-26","v":1.5,"l":0.0,"h":3.5},
{"s":"E","d":"2020-06-27","v":2.5,"l":0.0,"h":5.3},
{"s":"E","d":"2020-06-28","v":0.6,"l":0.0,"h":2.1},
{"s":"E","d":"2020-06-29","v":0.3,"l":0.0,"h":1.8},
{"s":"E","d":"2020-06-30","v":0.4,"l":0.0,"h":1.9},
{"s":"F","d":"2020-03-20","v":3.2,"l":0.4,"h":6.0},
{"s":"F","d":"2020-03-21","v":4.6,"l":0.8,"h":8.4},
{"s":"F","d":"2020-03-22","v":1.4,"l":0.0,"h":3.4},
{"s":"F","d":"2020-03-23","v":6.1,"l":2.3,"h":9.9},
{"s":"F","d":"2020-03-24","v":2.5,"l":0.0,"h":5.3},
{"s":"F","d":"2020-03-25","v":3.4,"l":0.6,"h":6.2},
{"s":"F","d":"2020-03-26","v":7.1,"l":2.6,"h":11.6},
{"s":"F","d":"2020-03-27","v":3.6,"l":0.8,"h":6.4},
{"s":"F","d":"2020-03-28","v":3.6,"l":0.8,"h":6.4},
{"s":"F","d":"2020-03-29","v":2.0,"l":0.0,"h":4.8},
{"s":"F","d":"2020-03-30","v":4.3,"l":0.5,"h":8.1},
{"s":"F","d":"2020-03-31","v":2.4,"l":0.0,"h":5.2},
{"s":"F","d":"2020-04-01","v":1.5,"l":0.0,"h":3.5},
{"s":"F","d":"2020-04-02","v":6.1,"l":2.3,"h":9.9},
{"s":"F","d":"2020-04-03","v":1.5,"l":0.0,"h":3.5},
{"s":"F","d":"2020-04-04","v":0.5,"l":0.0,"h":2.0},
{"s":"F","d":"2020-04-05","v":1.4,"l":0.0,"h":3.4},
{"s":"F","d":"2020-04-06","v":2.9,"l":0.1,"h":5.7},
{"s":"F","d":"2020-04-07","v":1.1,"l":0.0,"h":3.1},
{"s":"F","d":"2020-04-08","v":0.6,"l":0.0,"h":2.1},
{"s":"F","d":"2020-04-09","v":1.6,"l":0.0,"h":3.6},
{"s":"F","d":"2020-04-10","v":0.4,"l":0.0,"h":1.9},
{"s":"F","d":"2020-04-11","v":0.9,"l":0.0,"h":2.4},
{"s":"F","d":"2020-04-12","v":2.5,"l":0.0,"h":5.3},
{"s":"F","d":"2020-04-13","v":1.8,"l":0.0,"h":3.8},
{"s":"F","d":"2020-04-14","v":0.6,"l":0.0,"h":2.1},
{"s":"F","d":"2020-04-15","v":1.1,"l":0.0,"h":3.1},
{"s":"F","d":"2020-04-16","v":1.6,"l":0.0,"h":3.6},
{"s":"F","d":"2020-04-17","v":1.1,"l":0.0,"h":3.1},
{"s":"F","d":"2020-04-18","v":0.1,"l":0.0,"h":1.6},
{"s":"F","d":"2020-04-19","v":1.6,"l":0.0,"h":3.6},
{"s":"F","d":"2020-04-20","v":1.1,"l":0.0,"h":3.1},
{"s":"F","d":"2020-04-21","v":1.3,"l":0.0,"h":3.3},
{"s":"F","d":"2020-04-22","v":1.1,"l":0.0,"h":3.1},
{"s":"F","d":"2020-04-23","v":0.6,"l":0.0,"h":2.1},
{"s":"F","d":"2020-04-24","v":0.4,"l":0.0,"h":1.9},
{"s":"F","d":"2020-04-25","v":0.6,"l":0.0,"h":2.1},
{"s":"F","d":"2020-04-26","v":1.8,"l":0.0,"h":3.8},
{"s":"F","d":"2020-04-27","v":0.9,"l":0.0,"h":2.4},
{"s":"F","d":"2020-04-28","v":0.6,"l":0.0,"h":2.1},
{"s":"F","d":"2020-04-29","v":0.6,"l":0.0,"h":2.1},
{"s":"F","d":"2020-04-30","v":0.9,"l":0.0,"h":2.4},
{"s":"F","d":"2020-05-01","v":0.6,"l":0.0,"h":2.1},
{"s":"F","d":"2020-05-02","v":0.8,"l":0.0,"h":2.3},
{"s":"F","d":"2020-05-03","v":1.3,"l":0.0,"h":3.3},
{"s":"F","d":"2020-05-04","v":1.1,"l":0.0,"h":3.1},
{"s":"F","d":"2020-05-05","v":1.3,"l":0.0,"h":3.3},
{"s":"F","d":"2020-05-06","v":1.1,"l":0.0,"h":3.1},
{"s":"F","d":"2020-05-07","v":0.8,"l":0.0,"h":2.3},
{"s":"F","d":"2020-05-08","v":1.6,"l":0.0,"h":3.6},
{"s":"F","d":"2020-05-09","v":0.1,"l":0.0,"h":1.6},
{"s":"F","d":"2020-05-10","v":1.1,"l":0.0,"h":3.1},
{"s":"F","d":"2020-05-11","v":2.4,"l":0.0,"h":5.2},
{"s":"F","d":"2020-05-12","v":1.8,"l":0.0,"h":3.8},
{"s":"F","d":"2020-05-13","v":1.1,"l":0.0,"h":3.1},
{"s":"F","d":"2020-05-14","v":0.6,"l":0.0,"h":2.1},
{"s":"F","d":"2020-05-15","v":0.9,"l":0.0,"h":2.4},
{"s":"F","d":"2020-05-16","v":0.3,"l":0.0,"h":1.8},
{"s":"F","d":"2020-05-17","v":1.1,"l":0.0,"h":3.1},
{"s":"F","d":"2020-05-18","v":1.6,"l":0.0,"h":3.6},
{"s":"F","d":"2020-05-19","v":1.3,"l":0.0,"h":3.3},
{"s":"F","d":"2020-05-20","v":0.9,"l":0.0,"h":2.4},
{"s":"F","d":"2020-05-21","v":0.6,"l":0.0,"h":2.1},
{"s":"F","d":"2020-05-22","v":0.8,"l":0.0,"h":2.3},
{"s":"F","d":"2020-05-23","v":0.5,"l":0.0,"h":2.0},
{"s":"F","d":"2020-05-24","v":0.9,"l":0.0,"h":2.4},
{"s":"F","d":"2020-05-25","v":0.4,"l":0.0,"h":1.9},
{"s":"F","d":"2020-05-26","v":0.7,"l":0.0,"h":2.2},
{"s":"F","d":"2020-05-27","v":1.0,"l":0.0,"h":3.0},
{"s":"F","d":"2020-05-28","v":0.6,"l":0.0,"h":2.1},
{"s":"F","d":"2020-05-29","v":0.8,"l":0.0,"h":2.3},
{"s":"F","d":"2020-05-30","v":0.5,"l":0.0,"h":2.0},
{"s":"F","d":"2020-05-31","v":0.9,"l":0.0,"h":2.4},
{"s":"F","d":"2020-06-01","v":1.1,"l":0.0,"h":3.1},
{"s":"F","d":"2020-06-02","v":0.6,"l":0.0,"h":2.1},
{"s":"F","d":"2020-06-03","v":0.4,"l":0.0,"h":1.9},
{"s":"F","d":"2020-06-04","v":1.2,"l":0.0,"h":3.2},
{"s":"F","d":"2020-06-05","v":0.7,"l":0.0,"h":2.2},
{"s":"F","d":"2020-06-06","v":1.0,"l":0.0,"h":3.0},
{"s":"F","d":"2020-06-07","v":0.5,"l":0.0,"h":2.0},
{"s":"F","d":"2020-06-08","v":0.8,"l":0.0,"h":2.3},
{"s":"F","d":"2020-06-09","v":0.4,"l":0.0,"h":1.9},
{"s":"F","d":"2020-06-10","v":0.5,"l":0.0,"h":2.0},
{"s":"F","d":"2020-06-11","v":1.8,"l":0.0,"h":3.8},
{"s":"F","d":"2020-06-12","v":0.6,"l":0.0,"h":2.1},
{"s":"F","d":"2020-06-13","v":0.9,"l":0.0,"h":2.4},
{"s":"F","d":"2020-06-14","v":0.5,"l":0.0,"h":2.0},
{"s":"F","d":"2020-06-15","v":0.7,"l":0.0,"h":2.2},
{"s":"F","d":"2020-06-16","v":0.4,"l":0.0,"h":1.9},
{"s":"F","d":"2020-06-17","v":0.8,"l":0.0,"h":2.3},
{"s":"F","d":"2020-06-18","v":0.6,"l":0.0,"h":2.1},
{"s":"F","d":"2020-06-19","v":0.5,"l":0.0,"h":2.0},
{"s":"F","d":"2020-06-20","v":0.3,"l":0.0,"h":1.8},
{"s":"F","d":"2020-06-21","v":0.5,"l":0.0,"h":2.0},
{"s":"F","d":"2020-06-22","v":0.7,"l":0.0,"h":2.2},
{"s":"F","d":"2020-06-23","v":0.6,"l":0.0,"h":2.1},
{"s":"F","d":"2020-06-24","v":0.4,"l":0.0,"h":1.9},
{"s":"F","d":"2020-06-25","v":0.3,"l":0.0,"h":1.8},
{"s":"F","d":"2020-06-26","v":0.6,"l":0.0,"h":2.1},
{"s":"F","d":"2020-06-27","v":0.2,"l":0.0,"h":1.7},
{"s":"F","d":"2020-06-28","v":0.5,"l":0.0,"h":2.0},
{"s":"F","d":"2020-06-29","v":0.6,"l":0.0,"h":2.1},
{"s":"F","d":"2020-06-30","v":0.6,"l":0.0,"h":2.1},
{"s":"G","d":"2020-03-20","v":0.4,"l":0.0,"h":1.9},
{"s":"G","d":"2020-03-21","v":1.1,"l":0.0,"h":3.1},
{"s":"G","d":"2020-03-22","v":0.8,"l":0.0,"h":2.3},
{"s":"G","d":"2020-03-23","v":1.8,"l":0.0,"h":3.8},
{"s":"G","d":"2020-03-24","v":1.6,"l":0.0,"h":3.6},
{"s":"G","d":"2020-03-25","v":1.5,"l":0.0,"h":3.5},
{"s":"G","d":"2020-03-26","v":2.4,"l":0.0,"h":5.2},
{"s":"G","d":"2020-03-27","v":0.3,"l":0.0,"h":1.8},
{"s":"G","d":"2020-03-28","v":1.6,"l":0.0,"h":3.6},
{"s":"G","d":"2020-03-29","v":1.3,"l":0.0,"h":3.3},
{"s":"G","d":"2020-03-30","v":1.3,"l":0.0,"h":3.3},
{"s":"G","d":"2020-03-31","v":1.2,"l":0.0,"h":3.2},
{"s":"G","d":"2020-04-01","v":2.5,"l":0.0,"h":5.3},
{"s":"G","d":"2020-04-02","v":1.1,"l":0.0,"h":3.1},
{"s":"G","d":"2020-04-03","v":0.4,"l":0.0,"h":1.9},
{"s":"G","d":"2020-04-04","v":2.5,"l":0.0,"h":5.3},
{"s":"G","d":"2020-04-05","v":1.4,"l":0.0,"h":3.4},
{"s":"G","d":"2020-04-06","v":2.9,"l":0.1,"h":5.7},
{"s":"G","d":"2020-04-07","v":0.1,"l":0.0,"h":1.6},
{"s":"G","d":"2020-04-08","v":4.3,"l":0.5,"h":8.1},
{"s":"G","d":"2020-04-09","v":1.8,"l":0.0,"h":3.8},
{"s":"G","d":"2020-04-10","v":0.4,"l":0.0,"h":1.9},
{"s":"G","d":"2020-04-11","v":2.4,"l":0.0,"h":5.2},
{"s":"G","d":"2020-04-12","v":1.3,"l":0.0,"h":3.3},
{"s":"G","d":"2020-04-13","v":1.8,"l":0.0,"h":3.8},
{"s":"G","d":"2020-04-14","v":0.8,"l":0.0,"h":2.3},
{"s":"G","d":"2020-04-15","v":2.7,"l":0.0,"h":5.5},
{"s":"G","d":"2020-04-16","v":1.3,"l":0.0,"h":3.3},
{"s":"G","d":"2020-04-17","v":0.6,"l":0.0,"h":2.1},
{"s":"G","d":"2020-04-18","v":2.3,"l":0.0,"h":5.1},
{"s":"G","d":"2020-04-19","v":1.1,"l":0.0,"h":3.1},
{"s":"G","d":"2020-04-20","v":1.3,"l":0.0,"h":3.3},
{"s":"G","d":"2020-04-21","v":1.6,"l":0.0,"h":3.6},
{"s":"G","d":"2020-04-22","v":2.5,"l":0.0,"h":5.3},
{"s":"G","d":"2020-04-23","v":0.6,"l":0.0,"h":2.1},
{"s":"G","d":"2020-04-24","v":0.4,"l":0.0,"h":1.9},
{"s":"G","d":"2020-04-25","v":2.3,"l":0.0,"h":5.1},
{"s":"G","d":"2020-04-26","v":1.1,"l":0.0,"h":3.1},
{"s":"G","d":"2020-04-27","v":1.6,"l":0.0,"h":3.6},
{"s":"G","d":"2020-04-28","v":1.1,"l":0.0,"h":3.1},
{"s":"G","d":"2020-04-29","v":2.7,"l":0.0,"h":5.5},
{"s":"G","d":"2020-04-30","v":1.3,"l":0.0,"h":3.3},
{"s":"G","d":"2020-05-01","v":0.3,"l":0.0,"h":1.8},
{"s":"G","d":"2020-05-02","v":2.4,"l":0.0,"h":5.2},
{"s":"G","d":"2020-05-03","v":0.8,"l":0.0,"h":2.3},
{"s":"G","d":"2020-05-04","v":0.9,"l":0.0,"h":2.4},
{"s":"G","d":"2020-05-05","v":0.6,"l":0.0,"h":2.1},
{"s":"G","d":"2020-05-06","v":3.6,"l":0.8,"h":6.4},
{"s":"G","d":"2020-05-07","v":0.4,"l":0.0,"h":1.9},
{"s":"G","d":"2020-05-08","v":0.3,"l":0.0,"h":1.8},
{"s":"G","d":"2020-05-09","v":0.8,"l":0.0,"h":2.3},
{"s":"G","d":"2020-05-10","v":1.5,"l":0.0,"h":3.5},
{"s":"G","d":"2020-05-11","v":0.6,"l":0.0,"h":2.1},
{"s":"G","d":"2020-05-12","v":1.6,"l":0.0,"h":3.6},
{"s":"G","d":"2020-05-13","v":3.8,"l":1.0,"h":6.6},
{"s":"G","d":"2020-05-14","v":2.4,"l":0.0,"h":5.2},
{"s":"G","d":"2020-05-15","v":0.6,"l":0.0,"h":2.1},
{"s":"G","d":"2020-05-16","v":2.0,"l":0.0,"h":4.8},
{"s":"G","d":"2020-05-17","v":0.9,"l":0.0,"h":2.4},
{"s":"G","d":"2020-05-18","v":0.6,"l":0.0,"h":2.1},
{"s":"G","d":"2020-05-19","v":0.8,"l":0.0,"h":2.3},
{"s":"G","d":"2020-05-20","v":3.6,"l":0.8,"h":6.4},
{"s":"G","d":"2020-05-21","v":1.6,"l":0.0,"h":3.6},
{"s":"G","d":"2020-05-22","v":0.8,"l":0.0,"h":2.3},
{"s":"G","d":"2020-05-23","v":1.8,"l":0.0,"h":3.8},
{"s":"G","d":"2020-05-24","v":2.3,"l":0.0,"h":5.1},
{"s":"G","d":"2020-05-25","v":0.6,"l":0.0,"h":2.1},
{"s":"G","d":"2020-05-26","v":1.4,"l":0.0,"h":3.4},
{"s":"G","d":"2020-05-27","v":3.2,"l":0.4,"h":6.0},
{"s":"G","d":"2020-05-28","v":3.6,"l":0.8,"h":6.4},
{"s":"G","d":"2020-05-29","v":0.6,"l":0.0,"h":2.1},
{"s":"G","d":"2020-05-30","v":0.9,"l":0.0,"h":2.4},
{"s":"G","d":"2020-05-31","v":1.8,"l":0.0,"h":3.8},
{"s":"G","d":"2020-06-01","v":0.1,"l":0.0,"h":1.6},
{"s":"G","d":"2020-06-02","v":1.4,"l":0.0,"h":3.4},
{"s":"G","d":"2020-06-03","v":5.8,"l":2.0,"h":9.6},
{"s":"G","d":"2020-06-04","v":0.6,"l":0.0,"h":2.1},
{"s":"G","d":"2020-06-05","v":0.4,"l":0.0,"h":1.9},
{"s":"G","d":"2020-06-06","v":1.6,"l":0.0,"h":3.6},
{"s":"G","d":"2020-06-07","v":1.3,"l":0.0,"h":3.3},
{"s":"G","d":"2020-06-08","v":0.8,"l":0.0,"h":2.3},
{"s":"G","d":"2020-06-09","v":0.6,"l":0.0,"h":2.1},
{"s":"G","d":"2020-06-10","v":5.3,"l":1.5,"h":9.1},
{"s":"G","d":"2020-06-11","v":1.8,"l":0.0,"h":3.8},
{"s":"G","d":"2020-06-12","v":0.6,"l":0.0,"h":2.1},
{"s":"G","d":"2020-06-13","v":1.8,"l":0.0,"h":3.8},
{"s":"G","d":"2020-06-14","v":1.1,"l":0.0,"h":3.1},
{"s":"G","d":"2020-06-15","v":0.3,"l":0.0,"h":1.8},
{"s":"G","d":"2020-06-16","v":1.3,"l":0.0,"h":3.3},
{"s":"G","d":"2020-06-17","v":3.4,"l":0.6,"h":6.2},
{"s":"G","d":"2020-06-18","v":2.0,"l":0.0,"h":4.8},
{"s":"G","d":"2020-06-19","v":0.8,"l":0.0,"h":2.3},
{"s":"G","d":"2020-06-20","v":1.8,"l":0.0,"h":3.8},
{"s":"G","d":"2020-06-21","v":0.8,"l":0.0,"h":2.3},
{"s":"G","d":"2020-06-22","v":1.1,"l":0.0,"h":3.1},
{"s":"G","d":"2020-06-23","v":1.1,"l":0.0,"h":3.1},
{"s":"G","d":"2020-06-24","v":4.1,"l":0.3,"h":7.9},
{"s":"G","d":"2020-06-25","v":2.2,"l":0.0,"h":5.0},
{"s":"G","d":"2020-06-26","v":0.6,"l":0.0,"h":2.1},
{"s":"G","d":"2020-06-27","v":2.5,"l":0.0,"h":5.3},
{"s":"G","d":"2020-06-28","v":0.9,"l":0.0,"h":2.4},
{"s":"G","d":"2020-06-29","v":1.3,"l":0.0,"h":3.3},
{"s":"G","d":"2020-06-30","v":1.3,"l":0.0,"h":3.3}
]},
"encoding":{
"x":{"field":"d","type":"temporal","title":null,
"scale":{"type":"utc","nice":false,"domain":[{"year":2020,"month":3,"date":14,"hours":21,"minutes":36,"utc":true},{"year":2020,"month":7,"date":2,"hours":1,"minutes":26,"utc":true}]},
"axis":{"orient":"bottom","tickCount":{"interval":"day","step":1},"tickSize":7,
"tickOpacity":{"condition":{"test":"datum.value < 1584662400000 || datum.value > 1593475200000","value":0},"value":1},
"labelExpr":"utcday(datum.value) == 5 || (utcmonth(datum.value) == 5 && utcdate(datum.value) == 30) ? [utcFormat(datum.value, '%a'), utcFormat(datum.value, '%d.%m')] : ''",
"labelOverlap":false,"labelBound":false,"labelFlush":false,"labelAngle":0,"labelAlign":"center","labelBaseline":"top","labelLineHeight":17,"labelPadding":4}}
},
"layer":[
{"mark":{"type":"area","fill":"#000000","opacity":0.07,"interpolate":"linear"},
"encoding":{
"y":{"field":"l","type":"quantitative","title":"% of those employed in Jan 2020","scale":{"domain":[-4.9,103],"nice":false,"zero":false},
"axis":{"values":[0,25,50,75,100],"tickSize":7,"labelPadding":7,"titleFontSize":26,"titleFontWeight":"bold","titleColor":"#000000","titlePadding":9,"titleY":247}},
"y2":{"field":"h"},
"detail":{"field":"s","type":"nominal"}}},
{"mark":{"type":"line","strokeWidth":2.5},
"encoding":{
"y":{"field":"v","type":"quantitative","title":"% of those employed in Jan 2020",
"axis":{"values":[0,25,50,75,100],"tickSize":7,"labelPadding":7,"titleFontSize":26,"titleFontWeight":"bold","titleColor":"#000000","titlePadding":9,"titleY":247}},
"color":{"field":"s","type":"nominal","legend":null,
"scale":{"domain":["A","B","C","D","E","F","G"],"range":["#E41A1C","#377EB8","#4DAF4A","#984EA3","#FF7F00","#FFFF33","#A65628"]}}}}
]
}
